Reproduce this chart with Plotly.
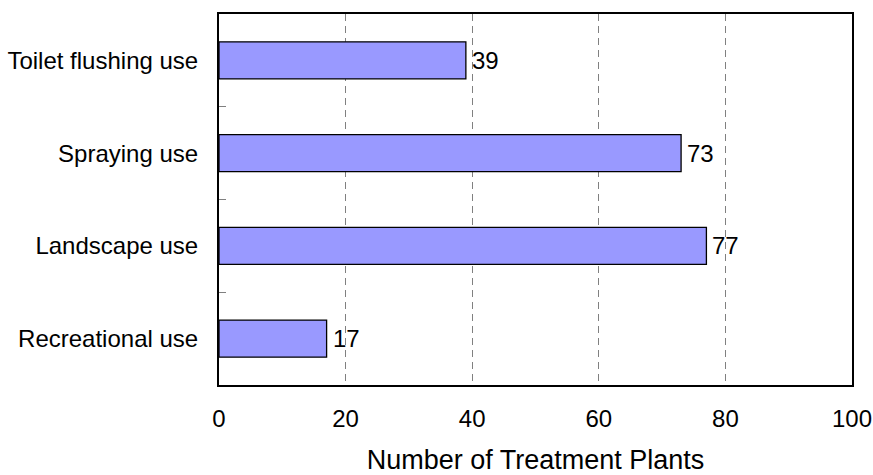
import plotly.graph_objects as go

# Reuse categories (bottom to top) and number of plants for each
categories = ["Recreational use", "Landscape use", "Spraying use", "Toilet flushing use"]
plant_counts = [17, 77, 73, 39]
x_ticks = [0, 20, 40, 60, 80, 100]

FONT = "Liberation Sans, Arial, sans-serif"

fig = go.Figure(
    go.Bar(
        x=plant_counts,
        y=categories,
        orientation="h",
        width=0.4,
        marker=dict(color="#9999FF", line=dict(color="#000000", width=1.3)),
    )
)

# Value labels just past the end of each bar
for cat, val in zip(categories, plant_counts):
    fig.add_annotation(
        x=val, y=cat, text=str(val), showarrow=False,
        xanchor="left", yanchor="middle", xshift=4,
        font=dict(family=FONT, size=24, color="#000000"),
    )

fig.update_layout(
    width=873,
    height=475,
    margin=dict(l=219, r=21, t=14, b=90),
    paper_bgcolor="white",
    plot_bgcolor="white",
    showlegend=False,
    font=dict(family=FONT, size=24, color="#000000"),
)

fig.update_xaxes(
    range=[0, 100],
    tickvals=x_ticks,
    ticks="",
    ticklabelstandoff=11,
    tickfont=dict(family=FONT, size=24),
    showgrid=True,
    gridcolor="#808080",
    gridwidth=1,
    griddash="7px,5px",
    zeroline=False,
    showline=True,
    linecolor="#000000",
    linewidth=2,
    mirror=True,
    automargin=False,
    title=dict(text="Number of Treatment Plants", font=dict(family=FONT, size=27), standoff=19),
)

fig.update_yaxes(
    categoryorder="array",
    categoryarray=categories,
    ticks="inside",
    tickson="boundaries",
    ticklen=7,
    tickcolor="#808080",
    tickwidth=1,
    ticklabelstandoff=14,
    tickfont=dict(family=FONT, size=24),
    showgrid=False,
    showline=True,
    linecolor="#000000",
    linewidth=2,
    mirror=True,
    automargin=False,
)

fig.write_html("out.html")
